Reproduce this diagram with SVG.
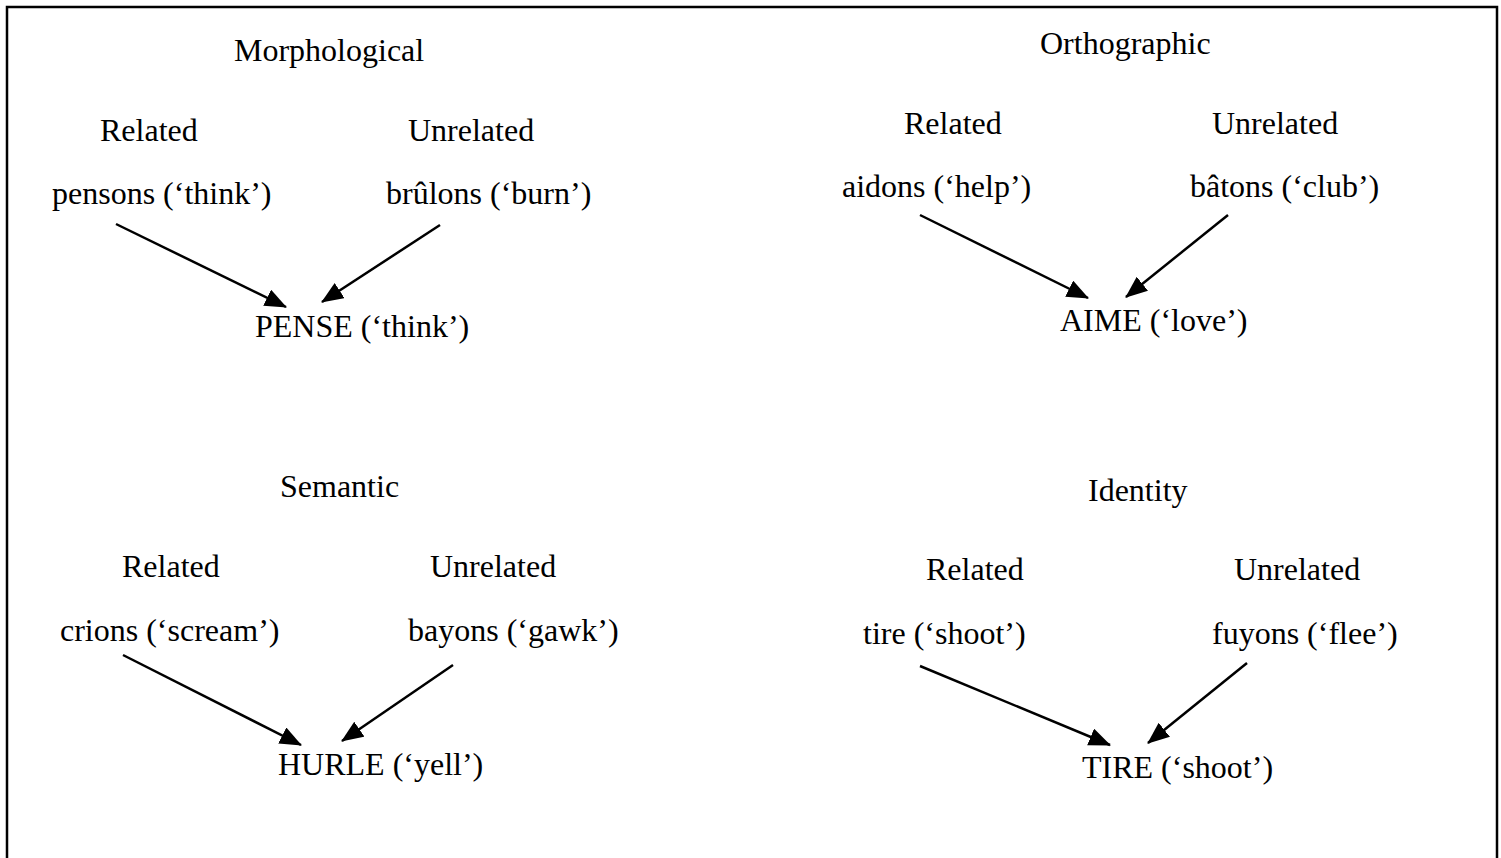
<svg xmlns="http://www.w3.org/2000/svg" width="1501" height="858" viewBox="0 0 1501 858">
<defs>
<style>
text{font-family:"Liberation Serif","Times New Roman",serif;font-size:32px;fill:#000}
.c line{stroke:#000;stroke-width:2.5}
</style>
<marker id="ah" markerUnits="userSpaceOnUse" markerWidth="24" markerHeight="20" refX="21" refY="9" orient="auto">
<path d="M0,0 L22,9 L0,18 Z" fill="#000"/>
</marker>
</defs>
<rect width="1501" height="858" fill="#fff"/>
<rect x="7" y="7" width="1490" height="900" fill="none" stroke="#000" stroke-width="2.5"/>
<g id="morphological">
<text x="234" y="61">Morphological</text>
<text x="100" y="141">Related</text>
<text x="408" y="141">Unrelated</text>
<text x="52" y="204">pensons (‘think’)</text>
<text x="386" y="204">brûlons (‘burn’)</text>
<text x="255" y="337">PENSE (‘think’)</text>
</g>
<g id="orthographic">
<text x="1040" y="54">Orthographic</text>
<text x="904" y="134">Related</text>
<text x="1212" y="134">Unrelated</text>
<text x="842" y="197">aidons (‘help’)</text>
<text x="1190" y="197">bâtons (‘club’)</text>
<text x="1060" y="331">AIME (‘love’)</text>
</g>
<g id="semantic">
<text x="280" y="497">Semantic</text>
<text x="122" y="577">Related</text>
<text x="430" y="577">Unrelated</text>
<text x="60" y="641">crions (‘scream’)</text>
<text x="408" y="641">bayons (‘gawk’)</text>
<text x="278" y="775">HURLE (‘yell’)</text>
</g>
<g id="identity">
<text x="1088" y="501">Identity</text>
<text x="926" y="580">Related</text>
<text x="1234" y="580">Unrelated</text>
<text x="863" y="644">tire (‘shoot’)</text>
<text x="1212" y="644">fuyons (‘flee’)</text>
<text x="1082" y="778">TIRE (‘shoot’)</text>
</g>
<g class="c" id="connectors">
<line x1="116" y1="224" x2="286" y2="307" marker-end="url(#ah)"/>
<line x1="440" y1="225" x2="322" y2="302" marker-end="url(#ah)"/>
<line x1="920" y1="215" x2="1088" y2="298" marker-end="url(#ah)"/>
<line x1="1228" y1="215" x2="1126" y2="297" marker-end="url(#ah)"/>
<line x1="123" y1="655" x2="301" y2="745" marker-end="url(#ah)"/>
<line x1="453" y1="665" x2="342" y2="741" marker-end="url(#ah)"/>
<line x1="920" y1="666" x2="1110" y2="745" marker-end="url(#ah)"/>
<line x1="1247" y1="663" x2="1148" y2="743" marker-end="url(#ah)"/>
</g>
</svg>
